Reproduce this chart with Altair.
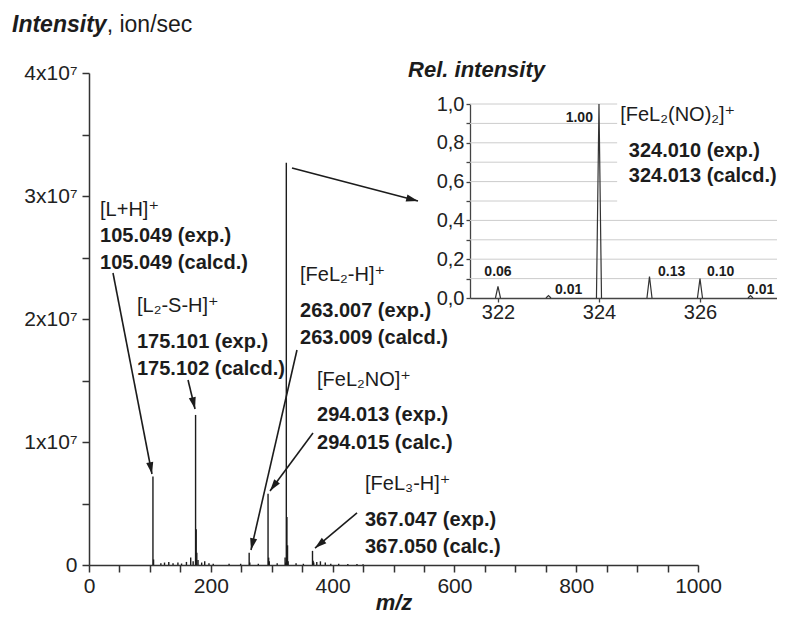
import math
import altair as alt
import pandas as pd

FONT = "Liberation Sans, DejaVu Sans, sans-serif"
INK = "#1c1c1c"

# ---------------- main spectrum (m/z, intensity in ion/sec) ----------------
mz = [105, 106, 118, 124, 131, 138, 146, 152, 160, 167, 171, 175, 176, 177, 179,
      185, 190, 197, 204, 230, 249, 263, 264, 278, 294, 295, 296, 309, 322, 323,
      324, 325, 326, 327, 340, 352, 367, 368, 369, 374, 380, 388, 397, 410, 425,
      440, 450]
intensity = [7.2e6, 0.45e6, 0.15e6, 0.2e6, 0.25e6, 0.15e6, 0.2e6, 0.12e6, 0.25e6,
             0.6e6, 0.3e6, 1.22e7, 2.9e6, 1.0e6, 0.4e6, 0.2e6, 0.3e6, 0.15e6,
             0.1e6, 0.1e6, 0.1e6, 1.0e6, 0.2e6, 0.1e6, 5.8e6, 0.6e6, 0.3e6,
             0.15e6, 0.6e6, 0.2e6, 3.27e7, 3.9e6, 1.6e6, 0.3e6, 0.15e6, 0.1e6,
             1.15e6, 0.35e6, 0.2e6, 0.25e6, 0.3e6, 0.2e6, 0.1e6, 0.1e6, 0.08e6,
             0.08e6, 0.06e6]

x_ticks = list(range(0, 1001, 50))
y_ticks = [i * 5e6 for i in range(9)]

# annotation blocks (left edge / vertical middle of each line, in m/z & intensity units)
formula_text = ["[L+H]⁺", "[L₂-S-H]⁺", "[FeL₂-H]⁺", "[FeL₂NO]⁺", "[FeL₃-H]⁺"]
formula_x = [18.1, 78.8, 346.5, 374.4, 453.2]
formula_y = [2.886e7, 2.106e7, 2.358e7, 1.504e7, 0.659e7]

value_text = ["105.049 (exp.)", "105.049 (calcd.)",
              "175.101 (exp.)", "175.102 (calcd.)",
              "263.007 (exp.)", "263.009 (calcd.)",
              "294.013 (exp.)", "294.015 (calc.)",
              "367.047 (exp.)", "367.050 (calc.)"]
value_x = [18.1, 18.1, 78.8, 78.8, 346.5, 346.5, 374.4, 374.4, 453.2, 453.2]
value_y = [2.675e7, 2.455e7, 1.813e7, 1.594e7, 2.065e7, 1.846e7,
           1.220e7, 0.992e7, 0.366e7, 0.146e7]

# arrows (start -> tip) in main data coordinates
arr_x1 = [39.4, 162.6, 341.5, 367.8, 440.1, 333.3]
arr_y1 = [2.374e7, 1.504e7, 1.748e7, 1.073e7, 0.423e7, 3.228e7]
arr_x2 = [103.4, 174.1, 266.0, 297.2, 371.1, 540.2]
arr_y2 = [0.740e7, 1.268e7, 0.122e7, 0.602e7, 0.138e7, 2.959e7]

# ---------------- inset: isotope pattern ----------------
inset_mz = [322, 323, 324, 325, 326, 327]
inset_rel = [0.06, 0.012, 1.00, 0.11, 0.10, 0.012]

peak_lab = ["1.00", "0.06", "0.01", "0.13", "0.10", "0.01"]
peak_lab_x = [323.88, 322.0, 323.13, 325.17, 326.14, 326.93]
peak_lab_y = [0.928, 0.134, 0.041, 0.134, 0.134, 0.041]
peak_lab_align = ["right", "center", "left", "left", "left", "left"]

inset_text = ["[FeL₂(NO)₂]⁺", "324.010 (exp.)", "324.013 (calcd.)"]
inset_text_x = [324.42, 324.59, 324.59]
inset_text_y = [0.943, 0.758, 0.629]

grid_y = [0.1, 0.2, 0.3, 0.4, 0.5, 0.6, 0.7, 0.8, 0.9, 1.0]
grid_x_end = [327.525, 327.525, 327.525, 327.525, 324.36, 324.36, 324.36,
              324.36, 324.36, 324.36]
inset_y_ticks = [0.0, 0.1, 0.2, 0.3, 0.4, 0.5, 0.6, 0.7, 0.8, 0.9, 1.0]
inset_x_ticks = [322, 324, 326]

# ---------------- layout ----------------
W, H = 609, 492
IN_LEFT, IN_RIGHT, IN_BOTTOM, IN_TOP = 381, 688, 225, 31
IN_DOMAIN = [321.446, 327.525]


def main_x():
    return alt.Scale(domain=[0, 1000], nice=False, zero=False)


def main_y():
    return alt.Scale(domain=[0, 4e7], nice=False, zero=False)


def in_x():
    return alt.Scale(domain=IN_DOMAIN, range=[IN_LEFT, IN_RIGHT], nice=False, zero=False)


def in_y():
    return alt.Scale(domain=[0, 1], range=[IN_BOTTOM, IN_TOP], nice=False, zero=False)


spec = pd.DataFrame({"mz": mz, "inten": intensity, "base": [0] * len(mz)})

sticks = alt.Chart(spec).mark_rule(color=INK, strokeWidth=1.4).encode(
    x=alt.X("mz:Q", scale=main_x(), axis=alt.Axis(
        values=x_ticks, format="d", orient="bottom",
        labelExpr="datum.value % 200 == 0 ? datum.label : ''",
        title="m/z", titleFontStyle="italic", titleFontWeight="bold",
        titleFontSize=22, titleColor=INK, titleBaseline="alphabetic", titleY=44,
        grid=False, tickSize=7, tickWidth=1.5, tickColor="#333",
        domainColor="#333", domainWidth=1.5, labelFontSize=21, labelColor="#222",
        labelFont=FONT, titleFont=FONT,
        labelPadding=3, labelFlush=False, labelOverlap=False)),
    y=alt.Y("inten:Q", scale=main_y(), axis=alt.Axis(
        values=y_ticks, title=None, orient="left",
        labelExpr="datum.value == 0 ? '0' : (datum.value % 10000000 == 0 ? format(datum.value / 10000000, 'd') + 'x10⁷' : '')",
        grid=False, tickSize=7, tickWidth=1.5, tickColor="#333",
        domainColor="#333", domainWidth=1.5, labelFontSize=21, labelColor="#222",
        labelFont=FONT,
        labelPadding=5, labelFlush=False, labelOverlap=False)),
    y2="base:Q",
)

# arrows
sx, sy = W / 1000.0, H / 4e7
ang = []
for a, b, c, d in zip(arr_x1, arr_y1, arr_x2, arr_y2):
    dx = (c - a) * sx
    dy = -(d - b) * sy
    ang.append(math.degrees(math.atan2(dx, -dy)) % 360)
arrows_df = pd.DataFrame({"x1": arr_x1, "y1": arr_y1, "x2": arr_x2, "y2": arr_y2, "ang": ang})

arrow_lines = alt.Chart(arrows_df).mark_rule(color=INK, strokeWidth=1.6).encode(
    x=alt.X("x1:Q", scale=main_x(), axis=None),
    y=alt.Y("y1:Q", scale=main_y(), axis=None),
    x2="x2:Q", y2="y2:Q",
)
arrow_heads = alt.Chart(arrows_df).mark_point(
    shape="M0,0L0.3,1L-0.3,1Z", filled=True, size=560, color=INK, opacity=1
).encode(
    x=alt.X("x2:Q", scale=main_x(), axis=None),
    y=alt.Y("y2:Q", scale=main_y(), axis=None),
    angle=alt.Angle("ang:Q", scale=None),
)

formula_df = pd.DataFrame({"t": formula_text, "x": formula_x, "y": formula_y})
value_df = pd.DataFrame({"t": value_text, "x": value_x, "y": value_y})


def text_layer(df, xs, ys, **kw):
    return alt.Chart(df).mark_text(baseline="middle", font=FONT, color=INK, **kw).encode(
        x=alt.X("x:Q", scale=xs, axis=None),
        y=alt.Y("y:Q", scale=ys, axis=None),
        text="t:N",
    )


formulas = text_layer(formula_df, main_x(), main_y(), align="left", fontSize=20)
values = text_layer(value_df, main_x(), main_y(), align="left", fontSize=20, fontWeight="bold")

title1 = text_layer(pd.DataFrame({"t": ["Intensity"], "x": [-126.4], "y": [4.39e7]}),
                    main_x(), main_y(), align="left", fontSize=23,
                    fontWeight="bold", fontStyle="italic")
title2 = text_layer(pd.DataFrame({"t": [", ion/sec"], "x": [29.0], "y": [4.39e7]}),
                    main_x(), main_y(), align="left", fontSize=23)

# ---------------- inset layers ----------------
HW = 0.05
rows = []
for i, (c, h) in enumerate(zip(inset_mz, inset_rel)):
    rows += [{"m": c - HW, "r": 0.0, "pk": i, "o": 0},
             {"m": c, "r": h, "pk": i, "o": 1},
             {"m": c + HW, "r": 0.0, "pk": i, "o": 2}]
prof_df = pd.DataFrame(rows)

grid_df = pd.DataFrame({"gy": grid_y, "gx0": [IN_DOMAIN[0]] * len(grid_y), "gx1": grid_x_end})
grid = alt.Chart(grid_df).mark_rule(color="#cccccc", strokeWidth=1).encode(
    x=alt.X("gx0:Q", scale=in_x(), axis=alt.Axis(
        orient="bottom", offset=-(H - IN_BOTTOM), values=inset_x_ticks, format="d",
        title=None, grid=False, tickSize=4, tickWidth=1.3, tickColor="#444",
        domainColor="#444", domainWidth=1.3, labelFontSize=20, labelColor="#222",
        labelFont=FONT,
        labelPadding=0, labelFlush=False, labelOverlap=False)),
    x2="gx1:Q",
    y=alt.Y("gy:Q", scale=in_y(), axis=alt.Axis(
        orient="left", offset=-IN_LEFT, values=inset_y_ticks, title=None,
        labelExpr="round(datum.value * 10) % 2 == 0 ? replace(format(datum.value, '.1f'), '.', ',') : ''",
        grid=False, tickSize=4, tickWidth=1.3, tickColor="#444",
        domainColor="#444", domainWidth=1.3, labelFontSize=20, labelColor="#222",
        labelFont=FONT,
        labelPadding=2, labelFlush=False, labelOverlap=False)),
)

profile = alt.Chart(prof_df).mark_line(color="#333", strokeWidth=1.2).encode(
    x=alt.X("m:Q", scale=in_x(), axis=None),
    y=alt.Y("r:Q", scale=in_y(), axis=None),
    detail="pk:N", order="o:Q",
)

pl_df = pd.DataFrame({"t": peak_lab, "x": peak_lab_x, "y": peak_lab_y, "a": peak_lab_align})
peak_layers = []
for al in ["left", "center", "right"]:
    sub = pl_df[pl_df["a"] == al][["t", "x", "y"]]
    peak_layers.append(text_layer(sub, in_x(), in_y(), align=al, fontSize=14,
                                  fontWeight="bold"))

it_df = pd.DataFrame({"t": inset_text, "x": inset_text_x, "y": inset_text_y})
inset_formula = text_layer(it_df.iloc[:1], in_x(), in_y(), align="left", fontSize=20)
inset_values = text_layer(it_df.iloc[1:], in_x(), in_y(), align="left", fontSize=20,
                          fontWeight="bold")
rel_title = text_layer(pd.DataFrame({"t": ["Rel. intensity"], "x": [320.22], "y": [1.175]}),
                       in_x(), in_y(), align="left", fontSize=22,
                       fontWeight="bold", fontStyle="italic")

chart = alt.layer(
    sticks, arrow_lines, arrow_heads, formulas, values, title1, title2,
    grid, profile, *peak_layers, inset_formula, inset_values, rel_title,
).resolve_scale(
    x="independent", y="independent"
).properties(
    width=W, height=H,
    padding={"left": 81, "top": 65, "right": 79, "bottom": 49},
    autosize=alt.AutoSizeParams(type="none"),
).configure_view(strokeWidth=0)

chart.save("out.html", embed_options={"renderer": "svg", "actions": False})
